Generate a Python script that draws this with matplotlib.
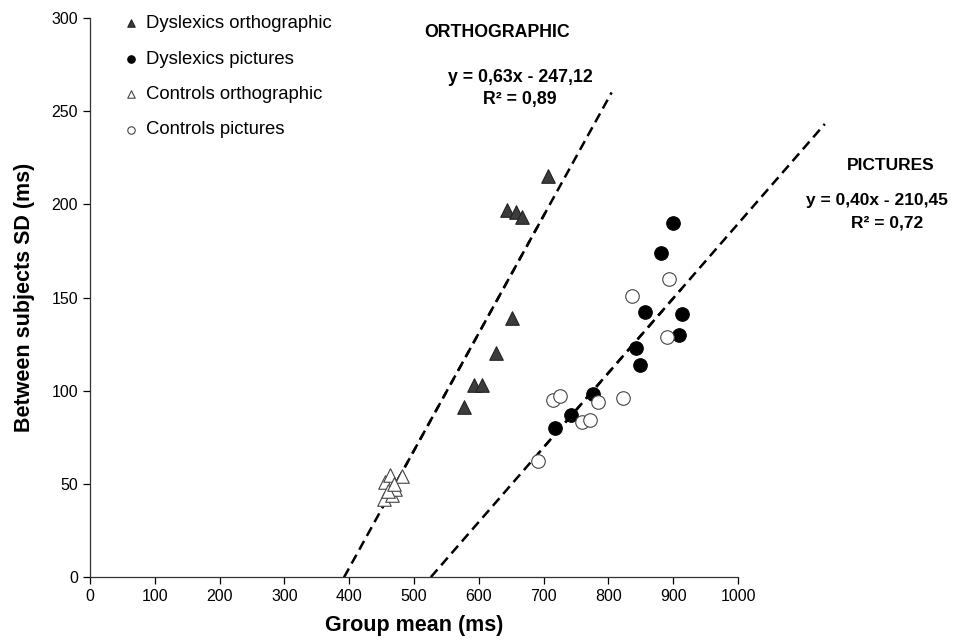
import matplotlib
matplotlib.use("Agg")
import matplotlib.pyplot as plt
import numpy as np

plt.rcParams['font.family'] = ['Liberation Sans', 'DejaVu Sans']

# Data
dys_orth_x = [707, 643, 658, 667, 652, 626, 593, 605, 577]
dys_orth_y = [215, 197, 196, 193, 139, 120, 103, 103, 91]
ctrl_orth_x = [455, 463, 482, 454, 466, 471, 460, 469]
ctrl_orth_y = [51, 55, 54, 42, 44, 47, 46, 50]
dys_pic_x = [900, 881, 856, 913, 909, 843, 849, 777, 743, 718]
dys_pic_y = [190, 174, 142, 141, 130, 123, 114, 98, 87, 80]
ctrl_pic_x = [893, 837, 890, 822, 784, 714, 725, 760, 772, 692]
ctrl_pic_y = [160, 151, 129, 96, 94, 95, 97, 83, 84, 62]

orth_fit = (0.63, -247.12)
pic_fit = (0.40, -210.45)
orth_range = [392, 805]
pic_range = [526, 1134]
orth_data_range = [455, 707]
pic_data_range = [692, 913]

x_ticks = list(range(0, 1001, 100))
y_ticks = list(range(0, 301, 50))

fig = plt.figure(figsize=(9.66, 6.41), dpi=100)
ax = fig.add_axes([90/966, 64/641, 648/966, 559/641])

# trend lines (dashed, heavier over the data range)
for (a, b), rng, drng in [(orth_fit, orth_range, orth_data_range),
                          (pic_fit, pic_range, pic_data_range)]:
    xs = np.array(rng, dtype=float)
    ax.plot(xs, a*xs + b, color='black', lw=1.8, ls=(0, (4, 2.3)), clip_on=False, zorder=2)
    xd = np.array(drng, dtype=float)
    ax.plot(xd, a*xd + b, color='black', lw=1.8, ls=(2.5, (3, 3.3)), zorder=2)

ms = 95
ax.scatter(dys_orth_x, dys_orth_y, marker='^', s=ms, facecolor='#3c3c3c', edgecolor='#222222',
           linewidth=0.8, zorder=3, label='Dyslexics orthographic')
ax.scatter(dys_pic_x, dys_pic_y, marker='o', s=ms, facecolor='black', edgecolor='black',
           linewidth=0.8, zorder=3, label='Dyslexics pictures')
ax.scatter(ctrl_orth_x, ctrl_orth_y, marker='^', s=ms, facecolor='white', edgecolor='#444444',
           linewidth=0.8, zorder=3, label='Controls orthographic')
ax.scatter(ctrl_pic_x, ctrl_pic_y, marker='o', s=ms, facecolor='white', edgecolor='#444444',
           linewidth=0.8, zorder=3, label='Controls pictures')

ax.set_xlim(0, 1000)
ax.set_ylim(0, 300)
ax.set_xticks(x_ticks)
ax.set_yticks(y_ticks)
ax.tick_params(direction='out', length=5, width=0.9, labelsize=11.5, colors='black')
for s in ['top', 'right']:
    ax.spines[s].set_visible(False)
for s in ['left', 'bottom']:
    ax.spines[s].set_linewidth(0.9)
    ax.spines[s].set_color('#333333')

ax.set_xlabel('Group mean (ms)', fontsize=15.5, fontweight='bold', labelpad=8)
ax.set_ylabel('Between subjects SD (ms)', fontsize=15.5, fontweight='bold', labelpad=12)

leg = ax.legend(loc='upper left', bbox_to_anchor=(0.021, 1.035), frameon=False, fontsize=13.3,
                markerscale=0.55, labelspacing=1.0, handletextpad=0.2, handlelength=1.2)

ax.text(628, 292, 'ORTHOGRAPHIC', ha='center', va='center', fontsize=12.8, fontweight='bold')
ax.text(664, 268, 'y = 0,63x - 247,12', ha='center', va='center', fontsize=12.8, fontweight='bold')
ax.text(664, 256, 'R² = 0,89', ha='center', va='center', fontsize=12.8, fontweight='bold')
ax.text(1235, 221, 'PICTURES', ha='center', va='center', fontsize=12.5, fontweight='bold', clip_on=False)
ax.text(1214, 202, 'y = 0,40x - 210,45', ha='center', va='center', fontsize=12.5, fontweight='bold', clip_on=False)
ax.text(1230, 190, 'R² = 0,72', ha='center', va='center', fontsize=12.5, fontweight='bold', clip_on=False)

fig.savefig('out.png', dpi=100)
